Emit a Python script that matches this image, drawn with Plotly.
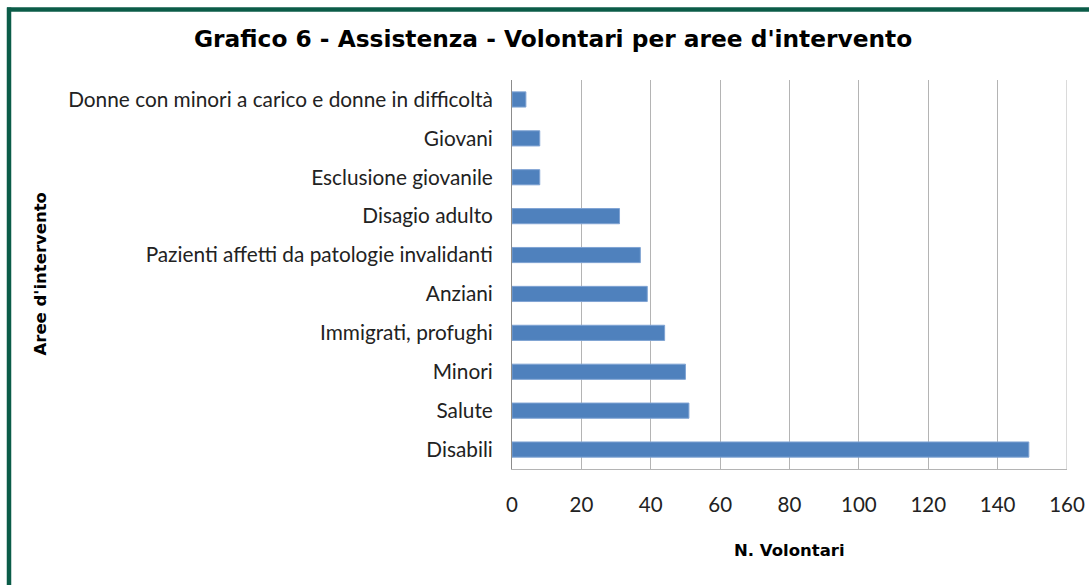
import plotly.graph_objects as go

categories = [
    "Donne con minori a carico e donne in difficoltà",
    "Giovani",
    "Esclusione giovanile",
    "Disagio adulto",
    "Pazienti affetti da patologie invalidanti",
    "Anziani",
    "Immigrati, profughi",
    "Minori",
    "Salute",
    "Disabili",
]
volontari = [4, 8, 8, 31, 37, 39, 44, 50, 51, 149]
x_ticks = [0, 20, 40, 60, 80, 100, 120, 140, 160]

title_text = "Grafico 6 - Assistenza - Volontari per aree d'intervento"
x_title = "N. Volontari"
y_title = "Aree d'intervento"

fig = go.Figure()
fig.add_trace(go.Bar(
    y=categories,
    x=volontari,
    orientation="h",
    marker=dict(color="#4F81BD", line=dict(color="#7FA3D3", width=1)),
    width=0.39,
    hoverinfo="x+y",
))

W, H = 1089, 585
PW = W - 512 - 22
PH = H - 80 - 116
fig.update_layout(
    width=W, height=H,
    autosize=False,
    margin=dict(l=512, r=22, t=80, b=116, autoexpand=False),
    paper_bgcolor="white",
    plot_bgcolor="white",
    showlegend=False,
    font=dict(family="Lato, Open Sans, sans-serif", color="#222222"),
    xaxis=dict(
        range=[0, 160],
        tickvals=x_ticks,
        automargin=False,
        showgrid=True,
        gridcolor="#B4B4B4",
        gridwidth=1,
        zeroline=False,
        showline=True,
        linecolor="#B4B4B4",
        mirror=False,
        ticks="",
        tickfont=dict(size=20.5, family="Lato, sans-serif", color="#222222"),
        ticklabelstandoff=17,
    ),
    yaxis=dict(
        type="category",
        autorange="reversed",
        automargin=False,
        showgrid=False,
        zeroline=False,
        showline=True,
        linecolor="#8C8C8C",
        ticks="",
        tickfont=dict(size=20.8, family="Lato, sans-serif", color="#222222"),
        ticklabelstandoff=14,
    ),
    shapes=[
        dict(type="line", xref="x", yref="paper", x0=160, x1=160, y0=0, y1=1,
             line=dict(color="#B4B4B4", width=1)),
        dict(type="line", xref="paper", yref="paper",
             x0=(9 - 512) / PW, x1=(9 - 512) / PW,
             y0=-(H - 469 + 10) / PH, y1=1 + (80 - 7.5) / PH,
             line=dict(color="#0B5C48", width=4.5), layer="above"),
        dict(type="line", xref="paper", yref="paper",
             x0=(7 - 512) / PW, x1=(W + 10 - 512) / PW,
             y0=1 + (80 - 9.5) / PH, y1=1 + (80 - 9.5) / PH,
             line=dict(color="#0B5C48", width=4.5), layer="above"),
    ],
    annotations=[
        dict(text="<b>" + title_text + "</b>", xref="paper", yref="paper",
             x=(553 - 512) / PW, y=1 + (80 - 38) / PH,
             xanchor="center", yanchor="middle", showarrow=False,
             font=dict(size=23.3, family="DejaVu Sans, sans-serif", color="#000000")),
        dict(text="<b>" + x_title + "</b>", xref="paper", yref="paper",
             x=0.5, y=-(550 - 469) / PH,
             xanchor="center", yanchor="middle", showarrow=False,
             font=dict(size=16.5, family="DejaVu Sans, sans-serif", color="#000000")),
        dict(text="<b>" + y_title + "</b>", xref="paper", yref="paper",
             x=-(512 - 40) / PW, y=0.5, textangle=-90,
             xanchor="center", yanchor="middle", showarrow=False,
             font=dict(size=16.5, family="DejaVu Sans, sans-serif", color="#000000")),
    ],
)

fig.write_html(
    "out.html",
    config={"displayModeBar": False},
    post_script="document.body.style.margin='0';document.body.style.overflow='hidden';",
)
